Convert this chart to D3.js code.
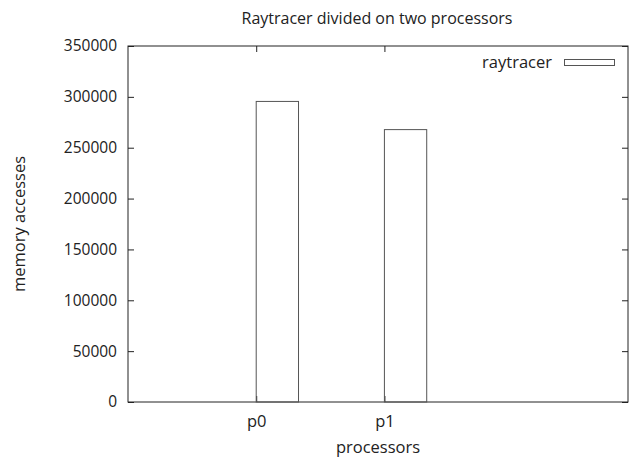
<!DOCTYPE html>
<html>
<head>
<meta charset="utf-8">
<script src="https://cdn.jsdelivr.net/npm/d3@7"></script>
<style>
  html, body { margin: 0; padding: 0; background: #fff; }
  svg { display: block; }
  text { font-family: "Open Sans", sans-serif; font-size: 16.5px; fill: #222; }
  .tick text { font-size: 15.5px; }
  .title { font-size: 16px; }
</style>
</head>
<body>
<svg id="chart" width="638" height="459"></svg>
<script>
// Memory accesses per processor for the raytracer run
const processors = ["p0", "p1"];
const accesses = [295500, 267800];
const yTicks = [0, 50000, 100000, 150000, 200000, 250000, 300000, 350000];
const seriesName = "raytracer";

const svg = d3.select("#chart");
const plot = { left: 128, right: 628, top: 46, bottom: 402 };

// x positions are category indices; bars sit just right of their tick
const x = d3.scaleLinear().domain([-1, 2.9]).range([plot.left, plot.right]);
const y = d3.scaleLinear().domain([0, 350000]).range([plot.bottom, plot.top]);
const boxWidth = 0.33;

const ink = "#222";

// frame
svg.append("rect")
  .attr("x", plot.left).attr("y", plot.top)
  .attr("width", plot.right - plot.left).attr("height", plot.bottom - plot.top)
  .attr("fill", "none").attr("stroke", ink).attr("stroke-width", 1);

// y axis with mirrored ticks on the right
const yAxis = d3.axisLeft(y).tickValues(yTicks).tickSize(-6).tickPadding(11).tickFormat(d3.format("d"));
const gy = svg.append("g").attr("transform", `translate(${plot.left},0)`).call(yAxis);
gy.select(".domain").remove();
gy.selectAll("line").attr("stroke", ink);

const gyr = svg.append("g").attr("transform", `translate(${plot.right},0)`)
  .call(d3.axisRight(y).tickValues(yTicks).tickSize(-6).tickFormat(""));
gyr.select(".domain").remove();
gyr.selectAll("line").attr("stroke", ink);

// x axis with mirrored ticks on top
const xIdx = processors.map((_, i) => i);
const gx = svg.append("g").attr("transform", `translate(0,${plot.bottom})`)
  .call(d3.axisBottom(x).tickValues(xIdx).tickSize(-6).tickPadding(13).tickFormat(i => processors[i]));
gx.select(".domain").remove();
gx.selectAll("line").attr("stroke", ink);
gx.selectAll("text").style("font-size", "16.5px");

const gxt = svg.append("g").attr("transform", `translate(0,${plot.top})`)
  .call(d3.axisTop(x).tickValues(xIdx).tickSize(-6).tickFormat(""));
gxt.select(".domain").remove();
gxt.selectAll("line").attr("stroke", ink);

// bars
svg.append("g").selectAll("rect")
  .data(accesses)
  .join("rect")
  .attr("x", (d, i) => x(i))
  .attr("y", d => y(d))
  .attr("width", (d, i) => x(i + boxWidth) - x(i))
  .attr("height", d => y(0) - y(d))
  .attr("fill", "none")
  .attr("stroke", "#555")
  .attr("stroke-width", 1);

// legend
svg.append("text").attr("x", 552).attr("y", 68).attr("text-anchor", "end").text(seriesName);
svg.append("rect").attr("x", 564.5).attr("y", 59.5).attr("width", 50).attr("height", 6)
  .attr("fill", "none").attr("stroke", "#555");

// titles
svg.append("text").attr("class", "title").attr("x", 377).attr("y", 24).attr("text-anchor", "middle")
  .text("Raytracer divided on two processors");
svg.append("text").attr("x", 378).attr("y", 453).attr("text-anchor", "middle").text("processors");
svg.append("text").attr("transform", "translate(25,224) rotate(-90)").attr("text-anchor", "middle")
  .text("memory accesses");
</script>
</body>
</html>
